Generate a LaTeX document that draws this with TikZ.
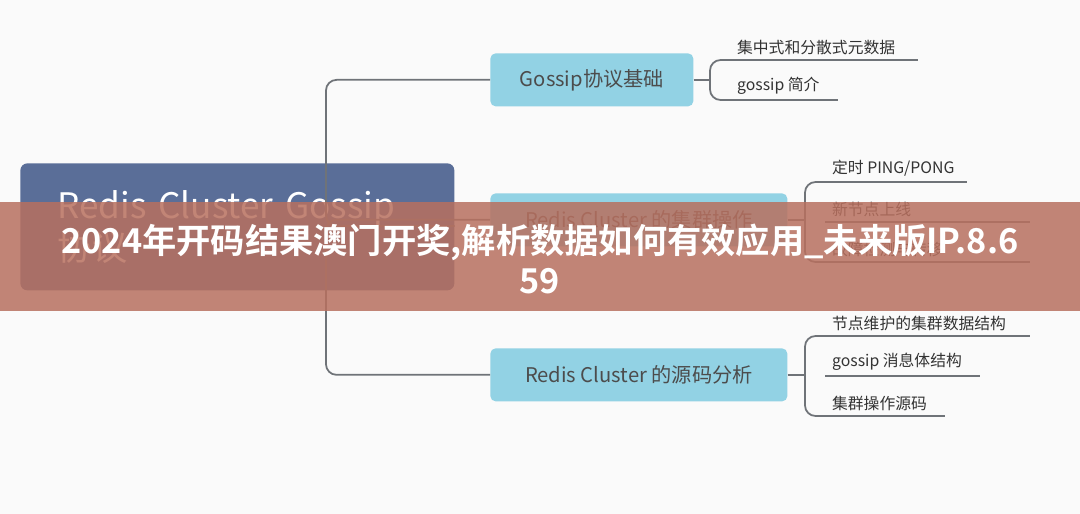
\documentclass[tikz,border=0pt]{standalone}
\usepackage{fontspec}
\setmainfont{Open Sans}
\newfontfamily\cjk{Noto Sans CJK SC}
\newfontfamily\cjkbold{Noto Sans CJK SC Bold}
\usetikzlibrary{positioning}
\usepackage{xcolor}
\definecolor{rootblue}{HTML}{5A6E98}
\definecolor{branchblue}{HTML}{92D2E4}
\definecolor{linegray}{HTML}{6F7378}
\definecolor{bannerred}{HTML}{B8705F}

\begin{document}
\begin{tikzpicture}[x=0.02cm,y=-0.02cm,%
		   root/.style={fill=rootblue,text=white,rounded corners=4pt,minimum width=408*0.02cm,minimum height=127*0.02cm,align=left,font=\cjk\fontsize{20}{24}\selectfont,anchor=north west,text width=360*0.02cm,inner xsep=37*0.02cm},
		   branch/.style={fill=branchblue,text=black!70,rounded corners=3pt,minimum height=53*0.02cm,font=\cjk\fontsize{11.5}{13}\selectfont,anchor=north west},
		   leaf/.style={text=black!80,font=\cjk\fontsize{9}{10}\selectfont,anchor=south west,inner sep=1pt},
		   link/.style={linegray,line width=1pt,rounded corners=6pt}]
	\useasboundingbox[fill=white] (0,0) rectangle (1080,514);
	\fill[black!2] (0,0) rectangle (1080,514);

	\node[root] (root) at (20,163) {Redis Cluster Gossip\\协议};
	\node[branch,minimum width=203*0.02cm] (b1) at (490,53) {Gossip协议基础};
	\node[branch,minimum width=297*0.02cm] (b2) at (490,193) {Redis Cluster 的集群操作};
	\node[branch,minimum width=297*0.02cm] (b3) at (490,348) {Redis Cluster 的源码分析};

	\coordinate (hub) at (326,226);
	\draw[link] (root.east |- hub) -- (hub) |- (b1.west);
	\draw[link] (hub) |- (b2.west);
	\draw[link] (hub) |- (b3.west);

	% leaves: branch/bracket x/first line y/list
	\foreach \b/\x/\ys/\items in {%
		b1/710/60/{{集中式和分散式元数据}/918,{gossip 简介}/838},%
		b2/805/182/{{定时 PING/PONG}/967,{新节点上线}/1030,{故障检测与转移}/1030},%
		b3/805/336/{{节点维护的集群数据结构}/1030,{gossip 消息体结构}/980,{集群操作源码}/945}%
	       } {
		   \foreach \t/\e [count=\i] in \items {
			   \pgfmathsetmacro\yy{\ys+(\i-1)*40}
			   \coordinate (\b-\i) at (\x,\yy);
			   \node[leaf] (\b-t\i) at ([xshift=25*0.02cm,yshift=2pt]\b-\i) {\t};
			   \draw[link,rounded corners=0pt] ([xshift=20*0.02cm]\b-\i) -- (\e,\yy);
			   \xdef\n{\i}% for the last leaf
		   }
		   \draw[link] (\b.east) -- (\b.east -| \b-1);
		   \draw[link] ([xshift=25*0.02cm]\b-1) -- (\b-1) -- (\b-\n) -- ([xshift=25*0.02cm]\b-\n);
	       }

	\fill[bannerred,opacity=0.85] (0,202) rectangle (1080,311);
	\node[text=white,align=center,font=\cjkbold\fontsize{19.5}{23}\selectfont] (banner) at (540,259) {2024年开码结果澳门开奖,解析数据如何有效应用\_未来版IP.8.6\\59};
\end{tikzpicture}
\end{document}
